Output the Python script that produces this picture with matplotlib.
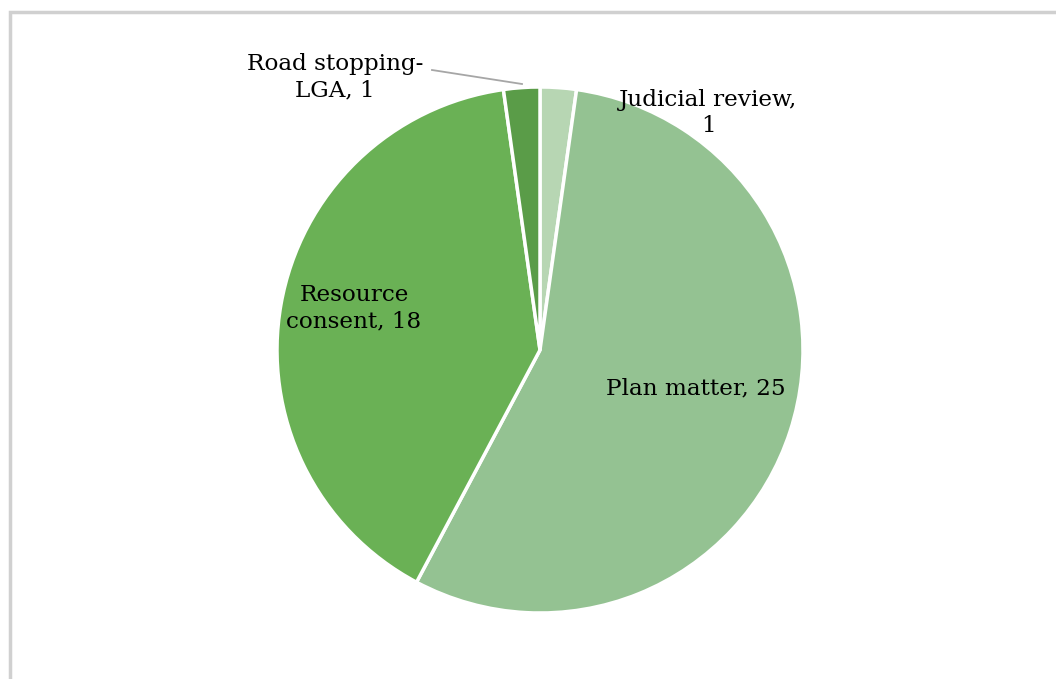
import matplotlib
matplotlib.use("Agg")
import matplotlib.pyplot as plt
from matplotlib.patches import Rectangle

# case counts by type
categories = ["Judicial review", "Plan matter", "Resource consent", "Road stopping-\nLGA"]
counts = [1, 25, 18, 1]
colors = ["#b7d6b3", "#94c292", "#6ab155", "#5a9c48"]

W, H = 1056, 679
fig = plt.figure(figsize=(W / 100, H / 100), dpi=100)
ax = fig.add_axes([0, 0, 1, 1])

# chart frame (only top and left edges fall inside the image)
ax.add_patch(Rectangle((9.5, -20), W + 40, H - 12 + 20, fill=False,
                       edgecolor="#d0d0d0", linewidth=2.5))

cx, cy, r = 540, H - 350, 263
ax.pie(counts, colors=colors, startangle=90, counterclock=False,
       center=(cx, cy), radius=r, frame=True,
       wedgeprops=dict(edgecolor="white", linewidth=2.5))
ax.set_xlim(0, W)
ax.set_ylim(0, H)
ax.set_aspect("equal")
ax.axis("off")

font = dict(family="DejaVu Serif", fontsize=16.7, color="black")
labels = [
    f"Judicial review,\n{counts[0]}",
    f"Plan matter, {counts[1]}",
    f"Resource\nconsent, {counts[2]}",
    f"{categories[3]}, {counts[3]}",
]
label_pos = [(708, 113), (696, 388), (354, 308), (335, 77)]
for txt, (x, y) in zip(labels, label_pos):
    ax.text(x, H - y, txt, ha="center", va="center", linespacing=1.27, **font)

# leader line for the small slice at the top
ax.plot([432, 522], [H - 70, H - 84], color="#a6a6a6", linewidth=1.3)

fig.savefig("out.png", dpi=100)
